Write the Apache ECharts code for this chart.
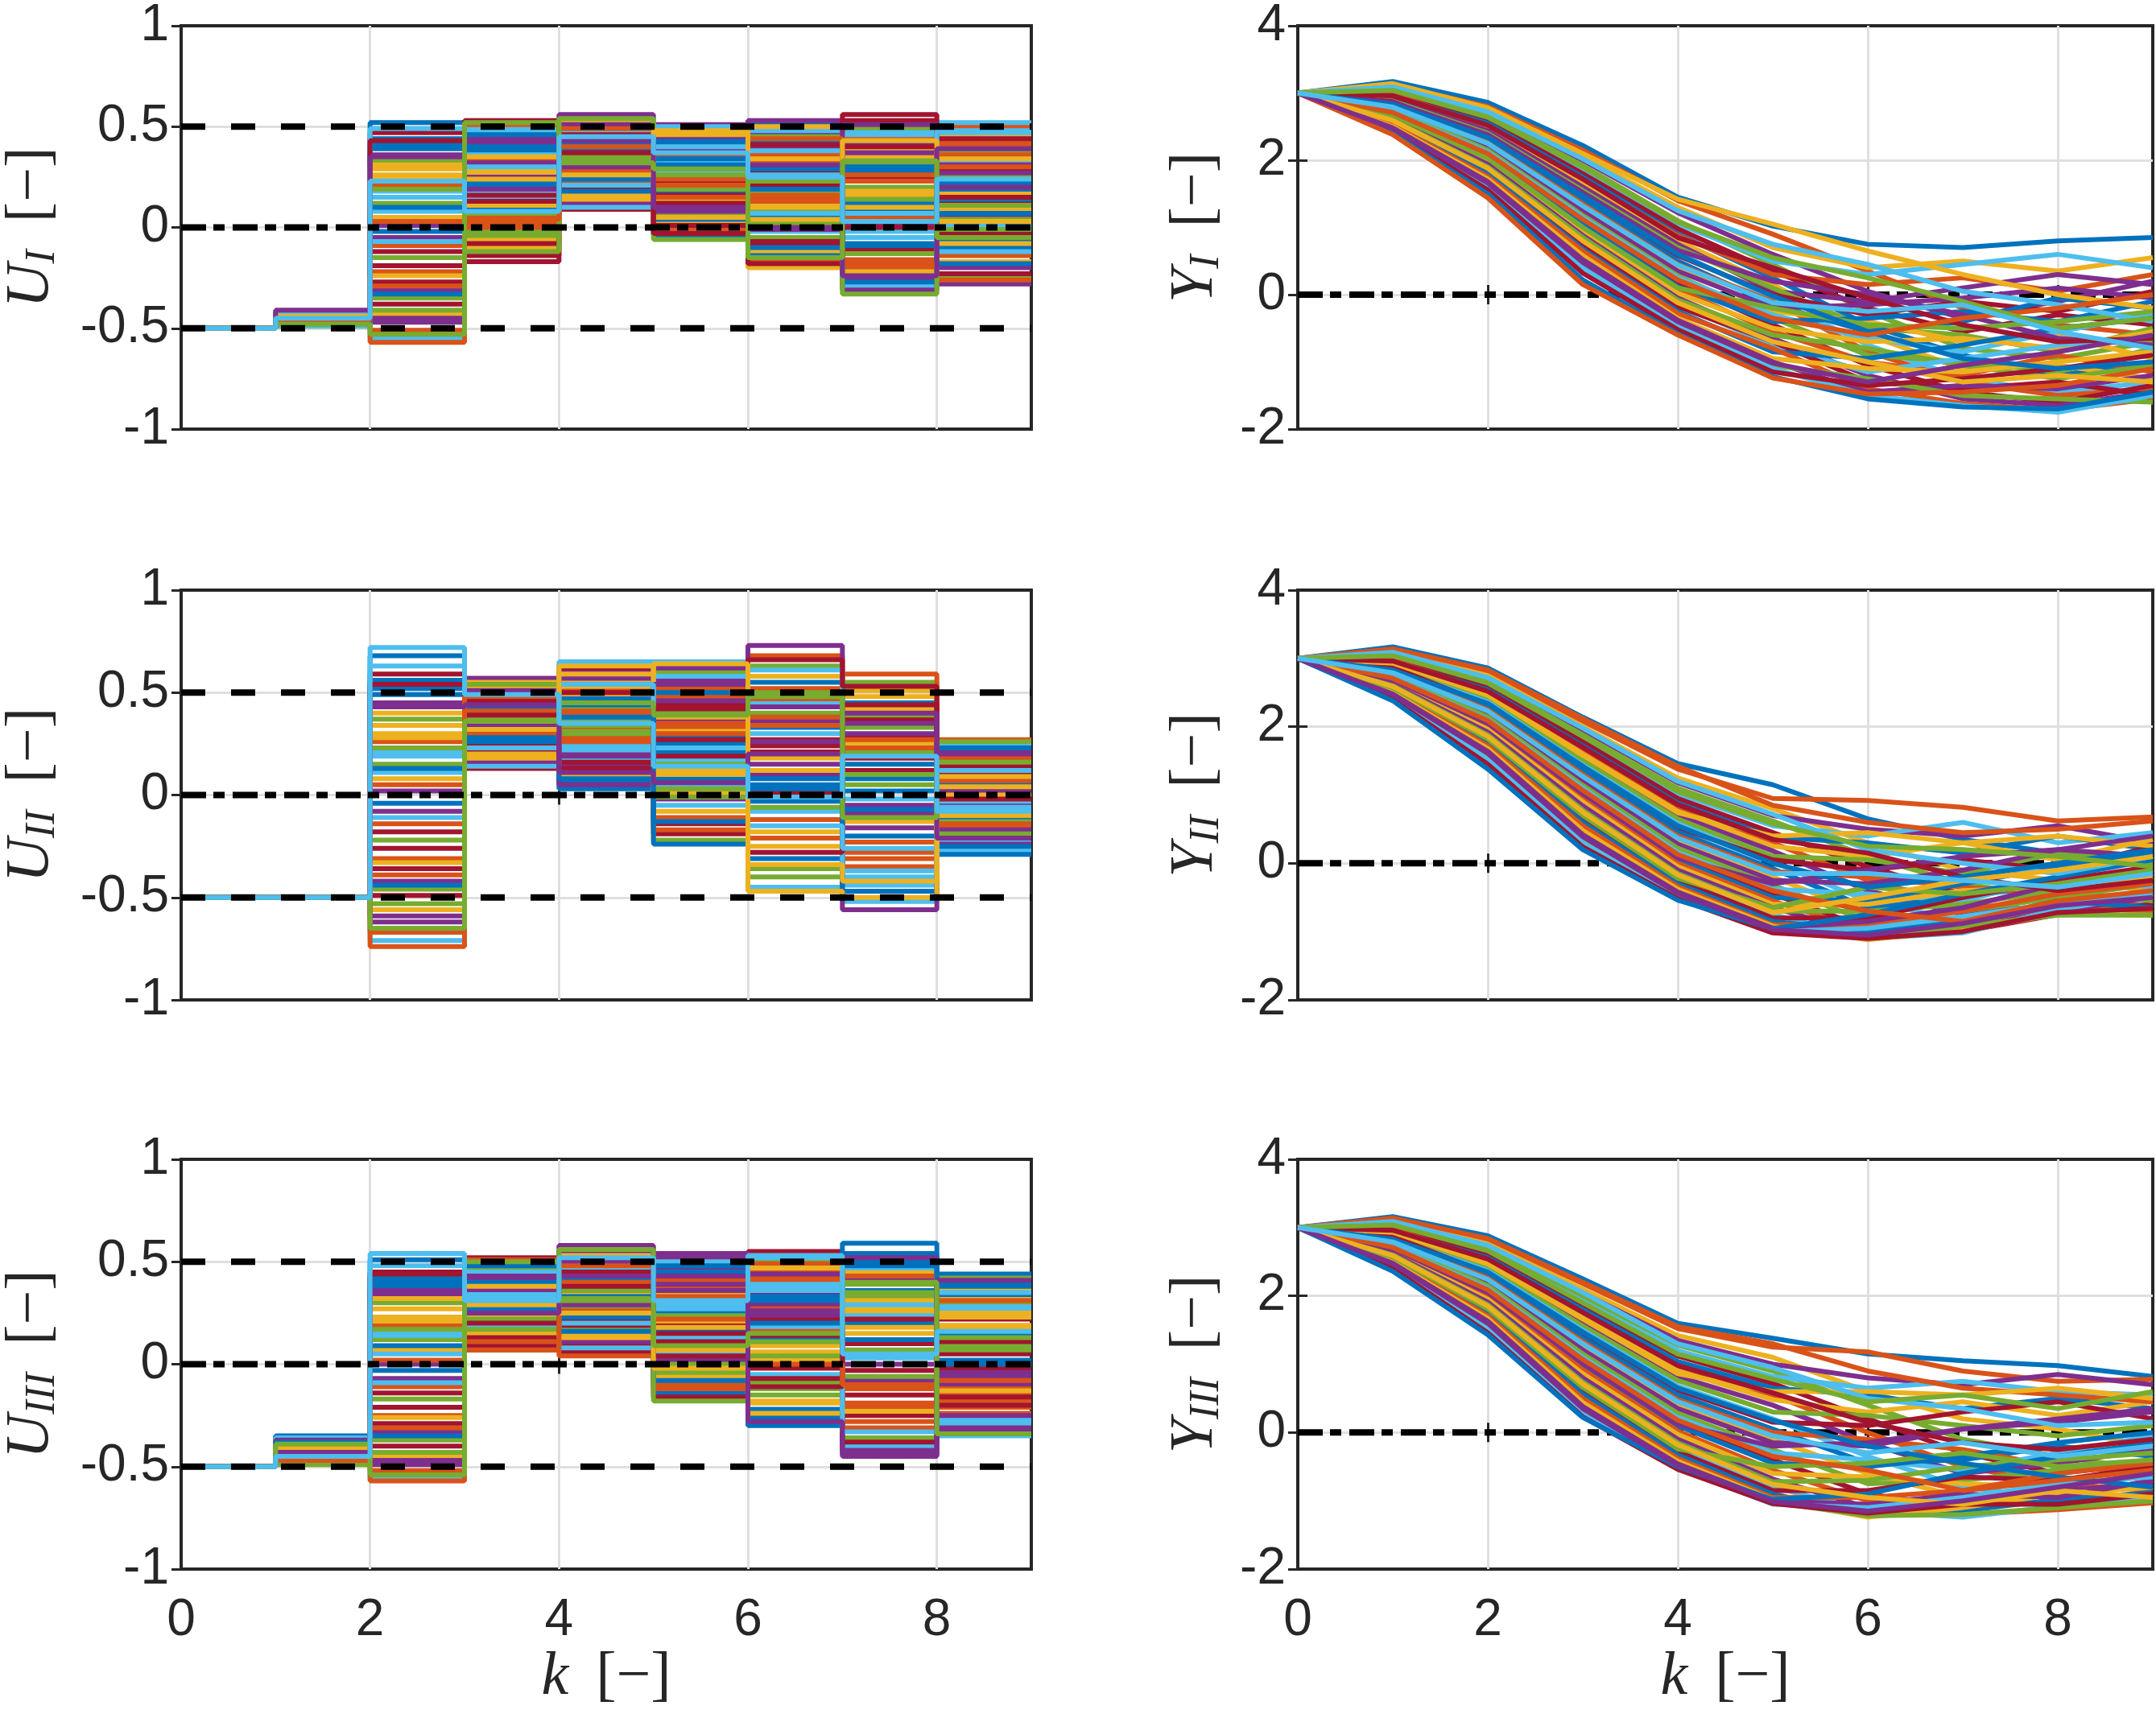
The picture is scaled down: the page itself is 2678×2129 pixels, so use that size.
<!DOCTYPE html>
<html>
<head>
<meta charset="UTF-8">
<title>U / Y trajectories</title>
<script src="https://cdn.jsdelivr.net/npm/echarts@6/dist/echarts.min.js"></script>
<style>
  html, body { margin: 0; padding: 0; background: #fff; }
  #main { width: 2678px; height: 2129px; }
</style>
</head>
<body>
<div id="main"></div>
<script>
// time steps k
var steps = [0, 1, 2, 3, 4, 5, 6, 7, 8, 9];
// common start values and reference levels
var uStart = -0.5;
var uLimits = [-0.5, 0.5];
var refLevel = 0;
var yStart = 3;

// inputs, one row per step k = 1..8 (each row: value of every run)
var uI = [
  [-0.45,-0.47,-0.43,-0.48,-0.44,-0.46,-0.42,-0.47,-0.44,-0.49,-0.45,-0.43,-0.46,-0.48,-0.44,-0.45,-0.47,-0.42,-0.46,-0.44,-0.48,-0.43,-0.45,-0.47,-0.46,-0.44,-0.49,-0.43,-0.45,-0.47,-0.42,-0.46,-0.48,-0.44,-0.45,-0.43,-0.47,-0.46,-0.44,-0.48,-0.43,-0.45,-0.47,-0.46,-0.44,-0.41,-0.48,-0.45],
  [0.41,-0.22,0.05,-0.47,0.33,0.18,-0.38,0.52,-0.09,0.26,-0.31,0.12,-0.55,0.47,-0.02,0.21,-0.43,0.36,-0.15,0.08,-0.27,0.44,-0.51,0.29,0.01,-0.35,0.15,-0.12,0.39,-0.57,0.24,-0.05,-0.41,0.49,-0.19,0.10,-0.29,0.31,-0.45,0.19,-0.07,0.43,-0.33,0.03,-0.24,0.35,-0.53,0.23],
  [0.22,0.45,-0.06,0.31,0.12,0.50,-0.14,0.38,0.05,0.27,0.42,-0.02,0.18,0.53,0.09,0.34,-0.10,0.25,0.47,0.14,-0.17,0.40,0.02,0.29,0.44,0.07,0.36,-0.08,0.20,0.51,0.11,0.32,-0.04,0.48,0.16,0.39,0.00,0.24,0.43,-0.12,0.30,0.13,0.46,0.04,0.35,0.19,0.52,0.08],
  [0.31,0.44,0.15,0.52,0.22,0.38,0.11,0.47,0.27,0.34,0.56,0.19,0.41,0.09,0.36,0.25,0.50,0.13,0.29,0.45,0.17,0.39,0.23,0.53,0.12,0.33,0.48,0.20,0.42,0.28,0.16,0.51,0.35,0.10,0.46,0.24,0.40,0.14,0.30,0.54,0.21,0.37,0.18,0.49,0.26,0.43,0.32,0.45],
  [0.18,0.36,0.02,0.47,0.25,0.11,0.41,-0.04,0.30,0.14,0.51,0.07,0.33,0.22,0.44,-0.01,0.27,0.39,0.09,0.49,0.16,0.04,0.35,0.20,0.45,-0.06,0.28,0.12,0.42,0.24,0.05,0.38,0.19,0.50,0.01,0.31,0.15,0.46,0.08,0.26,0.40,-0.03,0.34,0.21,0.48,0.10,0.29,0.37],
  [0.05,0.33,-0.12,0.46,0.18,-0.02,0.27,0.52,-0.17,0.12,0.39,0.08,0.24,-0.08,0.43,0.15,-0.20,0.30,0.02,0.48,0.21,-0.14,0.36,0.10,0.53,-0.05,0.26,0.41,-0.10,0.16,0.34,0.00,0.45,0.07,-0.18,0.29,0.13,0.50,-0.01,0.23,0.38,-0.07,0.19,0.44,0.04,0.31,-0.15,0.25],
  [0.12,-0.20,0.38,0.02,0.49,-0.29,0.25,-0.08,0.44,0.16,-0.25,0.31,-0.02,0.53,0.08,-0.16,0.35,-0.31,0.20,0.47,-0.11,0.28,0.05,-0.22,0.41,0.14,-0.05,0.56,-0.27,0.23,0.10,0.37,-0.13,0.46,0.00,0.30,-0.18,0.18,0.51,-0.33,0.07,0.40,-0.09,0.26,0.43,-0.24,0.33,0.03],
  [0.22,-0.14,0.45,0.06,-0.25,0.33,0.12,-0.06,0.50,0.17,-0.20,0.38,0.01,0.28,-0.10,0.42,0.09,-0.28,0.25,0.47,-0.03,0.14,0.36,-0.17,0.31,0.04,0.52,-0.23,0.19,0.40,-0.08,0.27,0.11,-0.12,0.44,0.07,-0.26,0.34,0.20,-0.01,0.48,0.15,-0.18,0.30,0.03,0.39,-0.05,0.24]
];
var uII = [
  -0.5,
  [0.52,-0.31,0.08,-0.62,0.37,0.21,-0.49,0.68,-0.14,0.30,-0.42,0.15,-0.71,0.59,-0.04,0.26,-0.56,0.45,-0.22,0.11,-0.36,0.56,-0.67,0.34,0.02,-0.46,0.19,-0.18,0.49,-0.74,0.28,-0.08,-0.53,0.63,-0.26,0.13,-0.39,0.40,-0.59,0.23,-0.11,0.54,-0.44,0.05,-0.33,0.43,-0.65,0.72],
  [0.35,0.48,0.19,0.53,0.27,0.42,0.15,0.50,0.31,0.38,0.57,0.22,0.45,0.13,0.40,0.29,0.52,0.17,0.33,0.47,0.21,0.43,0.25,0.55,0.16,0.36,0.49,0.24,0.44,0.30,0.20,0.51,0.37,0.14,0.46,0.28,0.41,0.18,0.34,0.54,0.23,0.39,0.26,0.48,0.32,0.44,0.36,0.49],
  [0.28,0.51,0.09,0.60,0.37,0.18,0.46,0.03,0.33,0.55,0.14,0.42,0.24,0.62,0.07,0.39,0.49,0.20,0.31,0.58,0.12,0.44,0.26,0.53,0.05,0.36,0.65,0.16,0.47,0.29,0.10,0.57,0.34,0.22,0.50,0.08,0.41,0.63,0.19,0.30,0.54,0.13,0.38,0.27,0.59,0.11,0.45,0.35],
  [0.21,0.48,-0.08,0.36,0.60,0.05,-0.19,0.29,0.52,0.12,-0.02,0.41,0.65,-0.14,0.25,0.33,0.01,0.56,-0.22,0.17,0.44,0.08,-0.11,0.38,0.62,0.15,-0.05,0.27,0.50,-0.17,0.31,0.46,0.03,0.58,0.19,-0.24,0.35,0.10,0.54,-0.01,0.23,0.42,-0.13,0.30,0.64,0.06,0.39,0.14],
  [0.33,-0.12,0.58,0.10,-0.36,0.45,0.21,-0.03,0.68,-0.25,0.15,0.40,-0.45,0.27,0.05,0.52,-0.18,0.36,0.63,-0.08,0.24,-0.31,0.47,0.12,0.73,-0.40,0.30,0.01,0.55,-0.21,0.18,0.43,-0.06,0.61,-0.28,0.08,0.38,-0.47,0.26,0.50,-0.15,0.66,0.03,0.34,-0.34,0.20,0.48,-0.01],
  [0.15,-0.28,0.42,-0.05,0.55,-0.44,0.29,0.02,-0.35,0.48,-0.16,0.21,-0.52,0.37,0.08,-0.23,0.51,-0.09,0.33,-0.40,0.12,0.45,-0.31,0.25,-0.56,0.39,-0.02,0.18,-0.47,0.59,-0.13,0.30,0.05,-0.37,0.44,-0.20,0.23,-0.50,0.35,0.10,-0.26,0.53,-0.07,0.27,-0.42,0.40,-0.11,0.19],
  [0.05,-0.15,0.19,-0.04,0.24,-0.22,0.11,-0.09,0.27,-0.18,0.02,0.15,-0.27,0.08,-0.12,0.21,-0.01,-0.24,0.13,0.25,-0.07,0.17,-0.20,0.04,0.22,-0.13,-0.03,0.10,-0.29,0.18,0.00,-0.17,0.26,-0.06,0.14,-0.25,0.07,-0.10,0.20,-0.19,0.12,-0.02,0.23,-0.14,0.09,-0.21,0.16,-0.08]
];
var uIII = [
  [-0.42,-0.38,-0.46,-0.40,-0.44,-0.36,-0.48,-0.41,-0.39,-0.45,-0.37,-0.43,-0.47,-0.40,-0.35,-0.44,-0.42,-0.38,-0.49,-0.41,-0.36,-0.45,-0.39,-0.43,-0.47,-0.37,-0.42,-0.46,-0.40,-0.38,-0.44,-0.41,-0.48,-0.36,-0.43,-0.39,-0.45,-0.42,-0.37,-0.46,-0.40,-0.44,-0.38,-0.47,-0.41,-0.43,-0.39,-0.45],
  [0.38,-0.25,0.07,-0.49,0.30,0.16,-0.40,0.51,-0.11,0.23,-0.33,0.12,-0.56,0.45,-0.03,0.19,-0.45,0.34,-0.17,0.05,-0.29,0.42,-0.52,0.27,0.00,-0.37,0.14,-0.14,0.40,-0.57,0.21,-0.07,-0.43,0.48,-0.21,0.09,-0.31,0.32,-0.47,0.17,-0.09,0.44,-0.35,0.02,-0.26,0.36,-0.54,0.54],
  [0.26,0.44,0.10,0.35,0.18,0.50,0.07,0.39,0.14,0.30,0.47,0.21,0.33,0.52,0.12,0.41,0.08,0.28,0.46,0.19,0.37,0.11,0.49,0.24,0.42,0.16,0.32,0.09,0.27,0.51,0.15,0.36,0.22,0.45,0.13,0.40,0.07,0.29,0.43,0.17,0.34,0.20,0.48,0.11,0.38,0.25,0.50,0.31],
  [0.30,0.47,0.12,0.55,0.22,0.39,0.06,0.44,0.27,0.35,0.58,0.17,0.41,0.09,0.33,0.24,0.51,0.14,0.28,0.46,0.19,0.37,0.04,0.53,0.11,0.32,0.49,0.21,0.42,0.26,0.15,0.50,0.36,0.08,0.45,0.23,0.40,0.13,0.29,0.56,0.20,0.38,0.16,0.48,0.25,0.43,0.31,0.52],
  [0.16,0.38,-0.06,0.47,0.24,0.05,0.32,-0.14,0.41,0.10,0.52,-0.01,0.28,0.19,0.44,-0.10,0.35,0.02,0.49,0.13,-0.16,0.26,0.40,0.07,0.54,-0.04,0.30,0.15,0.45,-0.12,0.21,0.36,0.00,0.50,0.11,-0.08,0.33,0.18,0.43,-0.18,0.27,0.04,0.48,0.22,-0.02,0.39,0.09,0.31],
  [0.12,0.40,-0.18,0.29,0.51,-0.05,0.22,-0.26,0.45,0.06,0.34,-0.12,0.18,0.55,-0.22,0.27,0.02,0.48,-0.09,0.37,0.14,-0.30,0.42,0.09,0.24,-0.15,0.52,-0.02,0.31,0.16,-0.24,0.44,0.04,0.36,-0.07,0.20,0.49,-0.19,0.26,0.11,0.39,-0.11,0.33,0.00,0.47,-0.28,0.15,0.53],
  [0.20,-0.31,0.45,-0.08,0.33,-0.40,0.10,0.54,-0.19,0.27,-0.45,0.39,0.03,-0.25,0.50,-0.12,0.15,0.42,-0.36,0.24,-0.03,0.59,-0.21,0.31,-0.44,0.07,0.47,-0.15,0.36,-0.28,0.18,0.52,-0.06,0.29,-0.38,0.12,0.43,-0.23,0.00,0.35,-0.33,0.22,0.48,-0.10,0.26,-0.42,0.40,0.05],
  [0.14,-0.21,0.32,-0.06,0.40,-0.29,0.22,0.02,-0.14,0.36,-0.33,0.09,0.27,-0.02,0.44,-0.24,0.17,-0.10,0.30,-0.35,0.05,0.38,-0.18,0.25,-0.04,0.42,-0.27,0.11,0.34,-0.12,0.19,-0.31,0.07,0.28,-0.16,0.39,-0.08,0.23,-0.25,0.13,0.35,-0.20,0.00,0.31,-0.13,0.41,-0.34,0.16]
];

// outputs, one row per run: values at k = 1..9 (k = 0 is yStart)
var yI = [
  [3.17,2.86,2.22,1.45,1.02,0.75,0.70,0.80,0.85],
  [3.12,2.80,2.15,1.40,0.90,0.35,-0.20,-0.45,-0.60],
  [3.10,2.74,2.05,1.30,0.70,0.40,0.50,0.35,0.55],
  [3.05,2.70,2.00,1.22,0.60,0.05,-0.35,-0.10,0.20],
  [3.08,2.66,1.92,1.10,0.45,-0.25,-0.80,-0.95,-0.70],
  [3.00,2.62,1.88,1.05,0.50,0.30,0.45,0.60,0.40],
  [3.02,2.58,1.80,0.98,0.35,-0.20,-0.55,-0.30,-0.45],
  [2.95,2.55,1.75,0.90,0.25,-0.45,-0.90,-1.20,-1.00],
  [2.98,2.50,1.70,0.88,0.30,0.15,0.25,0.05,0.30],
  [2.92,2.48,1.65,0.80,0.15,-0.60,-1.10,-1.05,-1.25],
  [2.90,2.44,1.60,0.75,0.05,-0.10,0.10,0.30,0.15],
  [2.88,2.40,1.55,0.70,0.10,-0.50,-0.60,-0.85,-0.50],
  [2.85,2.36,1.50,0.62,-0.05,-0.75,-1.25,-1.45,-1.30],
  [2.87,2.33,1.45,0.58,0.00,-0.30,-0.10,-0.25,0.05],
  [2.80,2.30,1.40,0.50,-0.15,-0.55,-0.40,-0.05,-0.20],
  [2.82,2.26,1.35,0.45,-0.10,-0.85,-1.30,-1.50,-1.40],
  [2.78,2.22,1.28,0.40,-0.25,-0.40,-0.70,-0.60,-0.95],
  [2.75,2.18,1.24,0.35,-0.20,-0.15,-0.05,0.10,-0.05],
  [2.76,2.15,1.18,0.28,-0.35,-0.90,-1.00,-1.15,-0.80],
  [2.72,2.12,1.15,0.25,-0.30,-0.65,-0.85,-0.55,-0.30],
  [2.70,2.08,1.08,0.18,-0.45,-1.05,-1.45,-1.60,-1.35],
  [2.68,2.05,1.05,0.12,-0.40,-0.35,-0.25,-0.40,-0.10],
  [2.66,2.00,0.98,0.08,-0.55,-1.00,-1.20,-0.90,-1.15],
  [2.64,1.98,0.95,0.02,-0.50,-0.70,-0.65,-0.80,-0.55],
  [2.62,1.94,0.88,-0.05,-0.65,-1.20,-1.55,-1.65,-1.45],
  [2.60,1.90,0.85,-0.08,-0.60,-0.80,-1.05,-1.25,-1.05],
  [2.58,1.86,0.78,-0.15,-0.75,-1.15,-0.95,-0.75,-0.65],
  [2.55,1.83,0.75,-0.18,-0.70,-1.30,-1.40,-1.30,-1.50],
  [2.54,1.80,0.68,-0.25,-0.85,-0.95,-0.75,-0.50,-0.35],
  [2.52,1.76,0.65,-0.28,-0.80,-1.40,-1.62,-1.72,-1.55],
  [2.50,1.72,0.58,-0.35,-0.95,-1.10,-1.15,-1.00,-0.85],
  [2.48,1.68,0.52,-0.38,-1.00,-1.45,-1.35,-1.40,-1.20],
  [2.46,1.64,0.45,-0.42,-1.05,-1.25,-1.50,-1.55,-1.60],
  [2.44,1.60,0.40,-0.48,-1.10,-1.50,-1.65,-1.75,-1.50],
  [2.42,1.56,0.32,-0.52,-1.15,-1.35,-1.25,-1.10,-0.90],
  [2.40,1.50,0.22,-0.58,-1.22,-1.55,-1.67,-1.70,-1.45],
  [2.38,1.44,0.15,-0.60,-1.24,-1.48,-1.45,-1.35,-1.10],
  [3.14,2.78,2.10,1.42,1.05,0.65,0.30,0.00,-0.20],
  [2.86,2.38,1.52,0.66,0.20,0.00,-0.30,-0.65,-0.75],
  [2.67,2.03,1.00,0.10,-0.20,-0.45,-0.50,-0.40,-0.25],
  [3.09,2.72,2.02,1.25,0.75,0.45,0.05,-0.15,-0.40],
  [2.96,2.52,1.72,0.85,0.40,-0.05,-0.45,-0.70,-0.65],
  [2.83,2.34,1.47,0.60,-0.02,-0.55,-0.95,-1.10,-1.00],
  [2.71,2.10,1.12,0.22,-0.35,-0.60,-0.35,-0.20,0.00],
  [2.59,1.88,0.80,-0.12,-0.70,-1.00,-1.30,-1.20,-1.30],
  [2.47,1.66,0.48,-0.40,-1.02,-1.30,-1.05,-0.85,-0.60],
  [3.04,2.64,1.90,1.08,0.55,0.25,-0.10,-0.50,-0.35],
  [2.79,2.25,1.32,0.44,-0.12,-0.25,-0.15,-0.55,-0.80]
];
var yII = [
  [3.17,2.86,2.14,1.46,1.15,0.65,0.35,0.15,0.05],
  [3.12,2.80,2.08,1.38,0.95,0.92,0.82,0.62,0.68],
  [3.10,2.75,2.00,1.25,0.80,0.30,-0.10,-0.25,-0.40],
  [3.06,2.70,1.95,1.18,0.70,0.50,0.40,0.55,0.30],
  [3.08,2.66,1.88,1.10,0.62,0.10,-0.30,-0.50,-0.60],
  [3.00,2.62,1.84,1.02,0.55,0.40,0.60,0.30,0.45],
  [3.02,2.58,1.78,0.95,0.45,-0.05,-0.45,-0.35,-0.20],
  [2.95,2.54,1.72,0.88,0.38,0.30,0.15,0.40,0.20],
  [2.98,2.50,1.66,0.82,0.30,-0.25,-0.60,-0.70,-0.50],
  [2.92,2.47,1.60,0.76,0.25,0.10,0.30,0.05,0.35],
  [2.90,2.43,1.55,0.70,0.18,-0.40,-0.75,-0.60,-0.70],
  [2.88,2.40,1.50,0.65,0.10,0.05,-0.15,0.15,0.00],
  [2.85,2.36,1.44,0.58,0.02,-0.55,-0.85,-0.72,-0.55],
  [2.87,2.32,1.40,0.52,0.05,-0.10,0.05,-0.10,0.25],
  [2.80,2.29,1.35,0.46,-0.08,-0.65,-0.50,-0.30,-0.15],
  [2.82,2.25,1.30,0.40,-0.12,-0.20,-0.35,-0.45,-0.65],
  [2.78,2.21,1.24,0.34,-0.20,-0.75,-0.90,-0.65,-0.45],
  [2.75,2.17,1.20,0.28,-0.25,-0.30,-0.10,0.20,0.10],
  [2.76,2.14,1.14,0.22,-0.32,-0.85,-0.70,-0.50,-0.30],
  [2.72,2.10,1.10,0.16,-0.38,-0.45,-0.55,-0.20,-0.35],
  [2.70,2.07,1.04,0.10,-0.45,-0.95,-1.00,-0.75,-0.60],
  [2.68,2.03,1.00,0.05,-0.50,-0.55,-0.30,-0.05,0.15],
  [2.66,1.99,0.94,0.00,-0.55,-1.00,-0.80,-0.60,-0.72],
  [2.64,1.96,0.90,-0.05,-0.60,-0.60,-0.40,-0.35,-0.20],
  [2.62,1.92,0.84,-0.10,-0.65,-1.05,-0.95,-0.70,-0.50],
  [2.60,1.88,0.78,-0.15,-0.70,-0.70,-0.60,-0.40,-0.55],
  [2.58,1.84,0.72,-0.20,-0.75,-1.10,-1.02,-0.68,-0.45],
  [2.55,1.80,0.66,-0.25,-0.80,-0.80,-0.50,-0.25,-0.05],
  [2.54,1.76,0.60,-0.30,-0.85,-1.00,-0.85,-0.55,-0.65],
  [2.52,1.72,0.55,-0.34,-0.90,-0.90,-0.70,-0.45,-0.30],
  [2.50,1.68,0.48,-0.38,-0.92,-1.12,-0.98,-0.74,-0.76],
  [2.48,1.64,0.42,-0.42,-0.95,-0.85,-0.65,-0.30,-0.10],
  [2.46,1.58,0.36,-0.46,-0.98,-1.08,-0.92,-0.76,-0.76],
  [2.44,1.52,0.30,-0.50,-1.00,-0.95,-0.78,-0.58,-0.40],
  [2.40,1.45,0.24,-0.52,-1.02,-1.10,-1.00,-0.72,-0.66],
  [2.38,1.38,0.20,-0.54,-0.96,-0.75,-0.45,-0.20,0.05],
  [3.14,2.83,2.12,1.42,0.85,0.60,0.45,0.50,0.62],
  [2.93,2.46,1.58,0.74,0.40,0.45,0.30,0.40,0.25],
  [2.69,2.05,1.02,0.08,-0.30,-0.10,0.10,0.20,0.40],
  [2.57,1.82,0.70,-0.22,-0.65,-0.35,-0.45,-0.30,-0.10],
  [3.09,2.72,1.98,1.20,0.72,0.20,0.00,-0.15,0.10],
  [2.96,2.52,1.70,0.86,0.35,0.15,-0.20,-0.40,-0.25],
  [2.83,2.34,1.42,0.55,0.00,-0.35,-0.20,0.00,0.20],
  [2.71,2.09,1.07,0.13,-0.40,-0.70,-0.85,-0.55,-0.40],
  [2.59,1.86,0.75,-0.17,-0.72,-0.50,-0.25,-0.10,0.10],
  [2.47,1.61,0.39,-0.44,-0.97,-1.05,-0.88,-0.62,-0.50],
  [3.04,2.64,1.86,1.05,0.58,0.25,0.20,0.10,-0.05],
  [2.79,2.23,1.27,0.37,-0.15,-0.15,-0.25,-0.35,-0.15]
];
var yIII = [
  [3.16,2.88,2.25,1.60,1.38,1.15,1.05,0.98,0.82],
  [3.12,2.82,2.18,1.52,1.25,1.18,0.90,0.75,0.78],
  [3.10,2.76,2.10,1.42,1.10,0.60,0.20,0.05,-0.20],
  [3.05,2.72,2.04,1.35,1.00,0.80,0.70,0.85,0.70],
  [3.08,2.68,1.98,1.28,0.90,0.40,-0.10,-0.35,-0.55],
  [3.00,2.64,1.92,1.20,0.82,0.65,0.75,0.60,0.55],
  [3.02,2.60,1.86,1.12,0.72,0.20,-0.30,-0.60,-0.45],
  [2.95,2.56,1.80,1.04,0.65,0.55,0.35,0.50,0.35],
  [2.98,2.52,1.74,0.96,0.55,0.00,-0.50,-0.75,-0.85],
  [2.92,2.48,1.68,0.90,0.48,0.30,0.45,0.25,0.45],
  [2.90,2.44,1.62,0.82,0.40,-0.15,-0.60,-0.45,-0.25],
  [2.88,2.41,1.56,0.76,0.30,0.25,0.10,-0.05,0.10],
  [2.85,2.37,1.50,0.68,0.20,-0.35,-0.80,-0.95,-0.70],
  [2.87,2.33,1.45,0.62,0.15,0.10,0.30,0.45,0.20],
  [2.80,2.30,1.38,0.55,0.05,-0.45,-0.40,-0.20,-0.35],
  [2.82,2.26,1.33,0.48,0.00,-0.10,-0.25,-0.50,-0.60],
  [2.78,2.22,1.27,0.42,-0.10,-0.60,-0.95,-1.05,-0.90],
  [2.75,2.18,1.21,0.35,-0.15,-0.20,0.05,0.20,0.35],
  [2.76,2.15,1.15,0.28,-0.25,-0.75,-0.70,-0.55,-0.40],
  [2.72,2.11,1.10,0.22,-0.30,-0.40,-0.55,-0.30,-0.05],
  [2.70,2.07,1.04,0.15,-0.40,-0.90,-1.10,-1.00,-0.95],
  [2.68,2.03,0.98,0.10,-0.45,-0.50,-0.35,-0.15,0.00],
  [2.66,1.99,0.92,0.02,-0.55,-1.00,-1.20,-1.13,-1.03],
  [2.64,1.95,0.86,-0.03,-0.60,-0.65,-0.75,-0.80,-0.60],
  [2.62,1.91,0.80,-0.10,-0.68,-1.10,-1.00,-0.85,-0.75],
  [2.60,1.87,0.74,-0.15,-0.72,-0.70,-0.50,-0.40,-0.30],
  [2.58,1.83,0.68,-0.22,-0.80,-1.15,-1.24,-1.08,-0.95],
  [2.55,1.79,0.62,-0.28,-0.85,-0.85,-0.65,-0.70,-0.50],
  [2.54,1.75,0.56,-0.33,-0.90,-1.20,-1.15,-0.98,-0.88],
  [2.52,1.71,0.50,-0.38,-0.95,-0.95,-0.85,-0.60,-0.45],
  [2.50,1.67,0.44,-0.42,-0.98,-1.24,-1.10,-0.90,-0.80],
  [2.48,1.63,0.38,-0.46,-1.00,-1.05,-0.90,-0.95,-0.70],
  [2.46,1.57,0.32,-0.50,-1.02,-1.22,-1.20,-1.10,-1.00],
  [2.43,1.51,0.27,-0.52,-1.05,-1.10,-0.95,-0.75,-0.65],
  [2.40,1.46,0.23,-0.54,-1.04,-1.18,-1.05,-1.05,-0.90],
  [2.36,1.43,0.22,-0.50,-0.98,-0.90,-0.60,-0.35,-0.15],
  [3.14,2.84,2.20,1.55,1.30,0.90,0.65,0.55,0.45],
  [2.93,2.47,1.66,0.86,0.60,0.60,0.55,0.65,0.50],
  [2.69,2.05,1.01,0.12,-0.20,-0.15,0.05,0.15,0.30],
  [2.57,1.81,0.66,-0.24,-0.50,-0.45,-0.30,-0.50,-0.40],
  [3.09,2.74,2.05,1.30,0.95,0.50,0.35,0.10,0.15],
  [2.96,2.54,1.76,0.98,0.58,0.15,-0.15,-0.25,-0.10],
  [2.83,2.35,1.47,0.65,0.18,-0.20,-0.45,-0.65,-0.80],
  [2.71,2.09,1.07,0.18,-0.35,-0.55,-0.85,-0.70,-0.55],
  [2.59,1.85,0.71,-0.18,-0.76,-0.95,-1.05,-0.85,-0.95],
  [2.47,1.60,0.35,-0.48,-1.01,-1.15,-1.00,-0.80,-0.60],
  [3.04,2.66,1.90,1.15,0.78,0.45,0.55,0.35,0.60],
  [2.79,2.24,1.30,0.45,-0.05,-0.30,-0.15,-0.35,-0.20]
];

var palette = ['#0072BD', '#D95319', '#EDB120', '#7E2F8E', '#77AC30', '#4DBEEE', '#A2142F'];
var ink = '#262626';
var sans = 'Liberation Sans, Arial, Helvetica, sans-serif';
var serif = 'Liberation Serif, Times New Roman, serif';
var dashed = [30, 32];
var dashDot = [31, 9, 14, 10];

var nameRich = {
  m: { fontFamily: serif, fontStyle: 'italic', fontSize: 76, lineHeight: 80, color: ink },
  s: { fontFamily: serif, fontStyle: 'italic', fontSize: 52, lineHeight: 42, verticalAlign: 'bottom', color: ink },
  g: { width: 34 },
  b: { fontFamily: serif, fontSize: 76, lineHeight: 80, color: ink }
};

// panel layout (pixels)
var panels = [
  { kind: 'u', rows: uI,   sym: 'U', sub: 'I',   left: 219,  top: 24,   bottomRow: false },
  { kind: 'y', rows: yI,   sym: 'Y', sub: 'I',   left: 1612, top: 24,   bottomRow: false },
  { kind: 'u', rows: uII,  sym: 'U', sub: 'II',  left: 219,  top: 733,  bottomRow: false },
  { kind: 'y', rows: yII,  sym: 'Y', sub: 'II',  left: 1612, top: 733,  bottomRow: false },
  { kind: 'u', rows: uIII, sym: 'U', sub: 'III', left: 219,  top: 1440, bottomRow: true },
  { kind: 'y', rows: yIII, sym: 'Y', sub: 'III', left: 1612, top: 1440, bottomRow: true }
];

function stairRuns(rows) {
  var n = Math.min.apply(null, rows.filter(Array.isArray).map(function (r) { return r.length; }));
  var runs = [];
  for (var j = 0; j < n; j++) {
    var vals = [uStart].concat(rows.map(function (r) { return Array.isArray(r) ? r[j] : r; }));
    vals.push(vals[vals.length - 1]); // hold last input until k = 9
    runs.push(vals.map(function (v, i) { return [steps[i], v]; }));
  }
  return runs;
}

function outputRuns(rows) {
  return rows.map(function (r) {
    return [yStart].concat(r).map(function (v, i) { return [steps[i], v]; });
  });
}

function hLine(xi, yi, level, type, z) {
  return {
    type: 'line', xAxisIndex: xi, yAxisIndex: yi, z: z, symbol: 'none', silent: true,
    data: [[steps[0], level], [steps[steps.length - 1], level]],
    lineStyle: { color: '#000', width: 8, type: type }
  };
}

var grids = [], xAxes = [], yAxes = [], series = [];
var tick = { show: true, inside: true, length: 12, lineStyle: { color: ink, width: 3 } };
var split = { show: true, showMinLine: false, showMaxLine: false, lineStyle: { color: '#dfdfdf', width: 3 } };

panels.forEach(function (p, pi) {
  var isU = p.kind === 'u';
  grids.push({
    left: p.left, top: p.top, width: 1062, height: 509,
    show: true, borderColor: ink, borderWidth: 4, backgroundColor: 'rgba(0,0,0,0)'
  });
  xAxes.push({
    type: 'value', gridIndex: pi, min: 0, max: 9, interval: 2, position: 'bottom',
    axisLine: { show: false }, axisTick: tick, splitLine: split,
    axisLabel: {
      show: p.bottomRow, fontSize: 64, color: ink, fontFamily: sans, margin: 32,
      formatter: function (v) { return v === 9 ? '' : String(v); }
    },
    name: p.bottomRow ? '{m|k}{g| }{b|[\u2212]}' : '',
    nameLocation: 'middle', nameGap: 94, nameTextStyle: { rich: nameRich }
  });
  xAxes.push({
    type: 'value', gridIndex: pi, min: 0, max: 9, interval: 2, position: 'top',
    axisLine: { show: false }, axisTick: tick, axisLabel: { show: false }, splitLine: { show: false }
  });
  yAxes.push({
    type: 'value', gridIndex: pi, position: 'left',
    min: isU ? -1 : -2, max: isU ? 1 : 4, interval: isU ? 0.5 : 2,
    axisLine: { show: false }, axisTick: tick, splitLine: split,
    axisLabel: { fontSize: 64, color: ink, fontFamily: sans, margin: 15 },
    name: '{m|' + p.sym + '}{s|' + p.sub + '}{g| }{b|[\u2212]}',
    nameLocation: 'middle', nameRotate: 90, nameGap: isU ? 146 : 87,
    nameTextStyle: { rich: nameRich }
  });
  yAxes.push({
    type: 'value', gridIndex: pi, position: 'right',
    min: isU ? -1 : -2, max: isU ? 1 : 4, interval: isU ? 0.5 : 2,
    axisLine: { show: false }, axisTick: tick, axisLabel: { show: false }, splitLine: { show: false }
  });

  var xi = pi * 2, yi = pi * 2;
  // zero reference of the outputs sits under the trajectories
  if (!isU) series.push(hLine(xi, yi, refLevel, dashDot, 1));
  var runs = isU ? stairRuns(p.rows) : outputRuns(p.rows);
  runs.forEach(function (d, j) {
    var c = palette[j % palette.length];
    series.push({
      type: 'line', xAxisIndex: xi, yAxisIndex: yi, z: 2, data: d,
      step: isU ? 'end' : false, symbol: 'none', silent: true,
      lineStyle: { color: c, width: 6 }, itemStyle: { color: c }
    });
  });
  // input limits and zero drawn on top
  if (isU) {
    uLimits.forEach(function (lim) { series.push(hLine(xi, yi, lim, dashed, 5)); });
    series.push(hLine(xi, yi, refLevel, dashDot, 5));
  }
});

var chart = echarts.init(document.getElementById('main'));
chart.setOption({
  animation: false,
  backgroundColor: '#fff',
  grid: grids,
  xAxis: xAxes,
  yAxis: yAxes,
  series: series
});
</script>
</body>
</html>
